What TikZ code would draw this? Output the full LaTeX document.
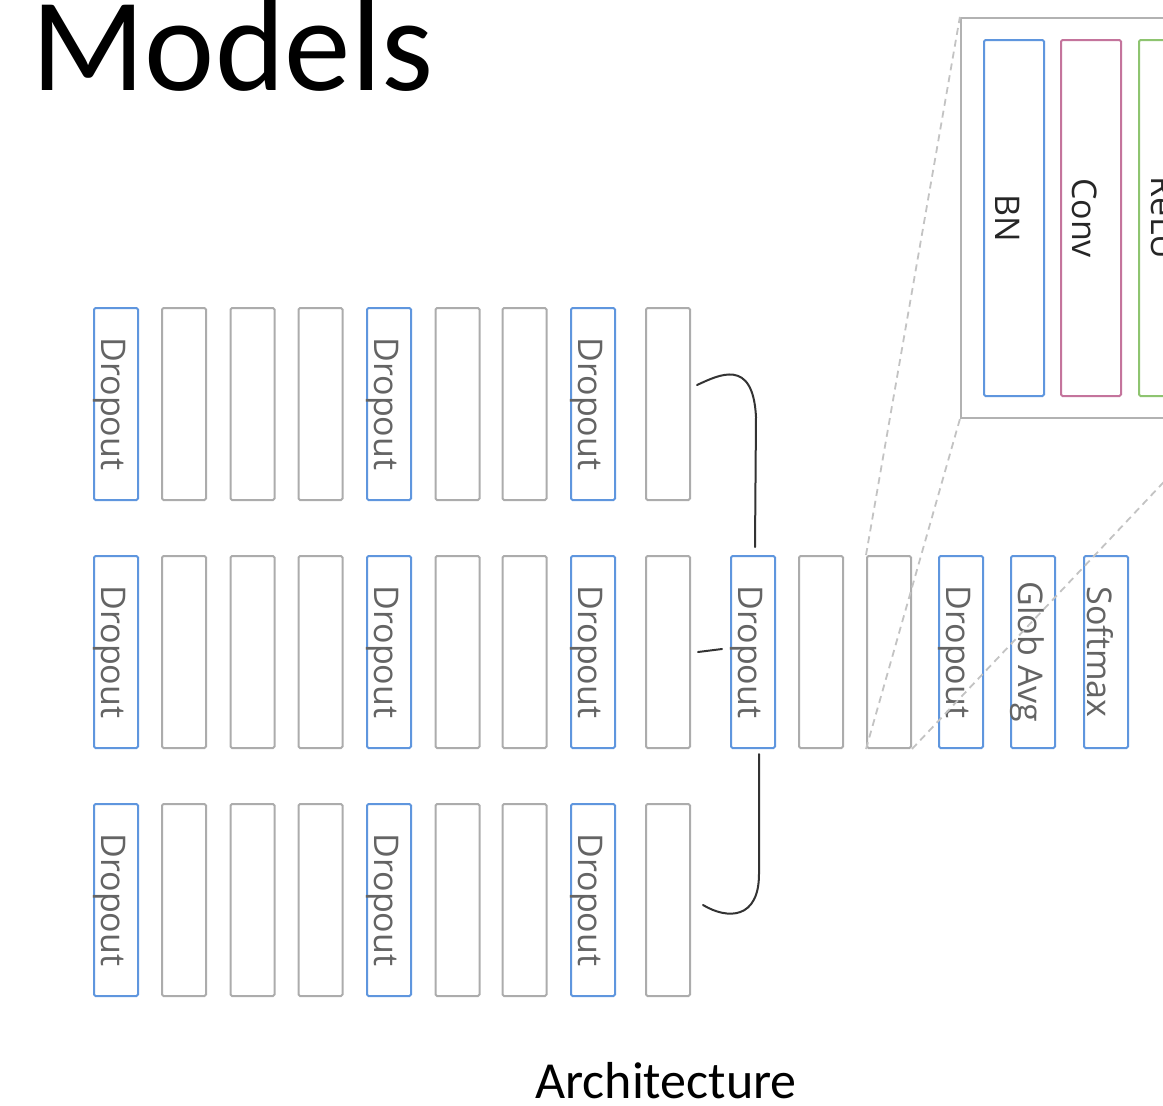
\documentclass[tikz,border=0pt]{standalone}
\usepackage{fontspec}
\setmainfont{Carlito}
\newfontfamily\boxfont{Open Sans}
\usetikzlibrary{calc}
\definecolor{bblue}{RGB}{95,150,222}
\definecolor{boxgray}{RGB}{172,172,172}
\definecolor{bpink}{RGB}{196,116,156}
\definecolor{bgreen}{RGB}{142,196,112}
\definecolor{labgray}{RGB}{100,100,100}
\definecolor{framegray}{RGB}{178,178,178}
\definecolor{dashgray}{RGB}{195,195,195}
\begin{document}
\begin{tikzpicture}[x=1pt,y=-1pt,
  layerbox/.style={draw=boxgray, line width=2pt, rounded corners=1.5pt, minimum width=44pt, minimum height=192pt, inner sep=0pt, fill=white},
  dropbox/.style={layerbox, draw=bblue},
  lbl/.style={font=\boxfont\fontsize{34}{34}\selectfont, text=labgray, rotate=-90, inner sep=0pt},
  ilbl/.style={font=\boxfont\fontsize{34}{34}\selectfont, text=black!85, rotate=-90, inner sep=0pt},
  innerbox/.style={draw, line width=2pt, rounded corners=1.5pt, minimum width=60pt, minimum height=356pt, inner sep=0pt, fill=white},
  brace/.style={draw=black!80, line width=2pt, line cap=round},
  zoomline/.style={draw=dashgray, line width=1.8pt, dash pattern=on 7pt off 5pt}]
\useasboundingbox (0,0) rectangle (1163,1106);
\clip (0,0) rectangle (1163,1106);

% title
\node[anchor=base west, inner sep=0pt, font=\fontsize{133}{133}\selectfont] (title) at (31,90) {Models};
\node[anchor=base, inner sep=0pt, font=\fontsize{52}{52}\selectfont] (caption) at (666,1098) {Architecture};

% three branch rows
\foreach \r/\y in {1/404,2/652,3/900} {
  \foreach \c/\x/\s in {1/116/dropbox,2/184/layerbox,3/252.5/layerbox,4/320.5/layerbox,5/389/dropbox,6/457.5/layerbox,7/524.5/layerbox,8/593/dropbox,9/668/layerbox} {
    \node[\s] (r\r c\c) at (\x,\y) {};
  }
  \foreach \c in {1,5,8} {
    \node[lbl] at ([xshift=-6pt]r\r c\c.center) {Dropout};
  }
}

% merged trunk
\node[dropbox] (r2c10) at (753,652) {};
\node[layerbox] (r2c11) at (821,652) {};
\node[layerbox] (r2c12) at (889,652) {};
\node[dropbox] (r2c13) at (961,652) {};
\node[dropbox] (r2c14) at (1033,652) {};
\node[dropbox] (r2c15) at (1106,652) {};
\node[lbl] at ([xshift=-6pt]r2c10.center) {Dropout};
\node[lbl] at ([xshift=-6pt]r2c13.center) {Dropout};
\node[lbl] at ([xshift=-6pt]r2c14.center) {Glob Avg};
\node[lbl] at ([xshift=-6pt]r2c15.center) {Softmax};

% inset
\node[draw=framegray, line width=2.2pt, fill=white, minimum width=261pt, minimum height=400pt, inner sep=0pt] (inset) at (1091.5,218) {};
\node[innerbox, draw=bblue] (bn) at (1014,218) {};
\node[innerbox, draw=bpink] (conv) at (1091,218) {};
\node[innerbox, draw=bgreen] (relu) at (1169,218) {};
\node[ilbl] at ([xshift=-6pt]bn.center) {BN};
\node[ilbl] at ([xshift=-6pt]conv.center) {Conv};
\node[ilbl] at ([xshift=-6pt]relu.center) {ReLU};

% zoom lines
\draw[zoomline] (r2c12.north west) -- (inset.north west);
\draw[zoomline] (r2c12.south west) -- (inset.south west);
\draw[zoomline] (r2c12.south east) -- (inset.south east);

% braces joining branches
\coordinate (b1s) at ($(r1c9.east)+(6,-19)$);
\coordinate (b1e) at ($(r2c10.north)+(2,-8)$);
\draw[brace] (b1s) .. controls ($(b1s)+(22,-10)$) and ($(b1e)+(-2,-190)$) .. ($(b1e)+(1,-130)$) -- (b1e);
\coordinate (b2s) at ($(r2c9.east)+(7,0)$);
\coordinate (b2e) at ($(r2c10.west)+(-8,-3)$);
\draw[brace] (b2s) -- (b2e);
\coordinate (b3s) at ($(r2c10.south)+(6,5)$);
\coordinate (b3e) at ($(r3c9.east)+(12,5)$);
\draw[brace] (b3s) -- ($(b3s)+(0,120)$) .. controls ($(b3s)+(0,165)$) and ($(b3e)+(25,15)$) .. (b3e);
\end{tikzpicture}
\end{document}
